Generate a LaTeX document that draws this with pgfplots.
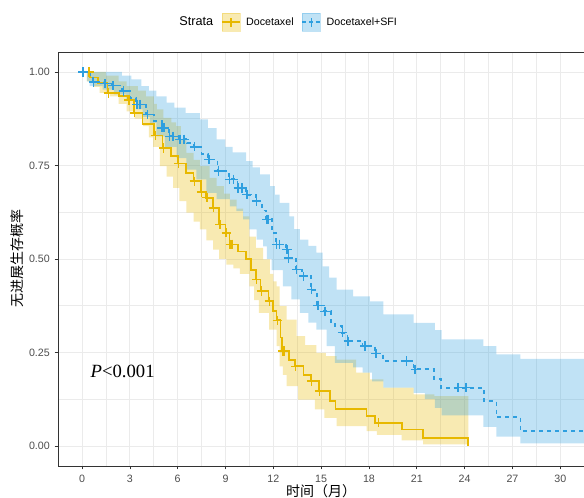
\documentclass[border=0pt]{standalone}
\usepackage{fontspec}
\setmainfont{Liberation Sans}
\newfontfamily\cjk{Noto Sans CJK SC}
\newfontfamily\tms{Liberation Serif}
\usepackage{pgfplots}
\pgfplotsset{compat=1.18}
\usepackage{pgfplotstable}
\usepgfplotslibrary{fillbetween}
\definecolor{docgold}{HTML}{E7B800}
\definecolor{sfiblue}{HTML}{2E9FDF}
\definecolor{gridgray}{HTML}{EBEBEB}
\definecolor{ticktext}{HTML}{4D4D4D}
\definecolor{framegray}{HTML}{333333}

% KM step curves: x = time (months), y = survival from x onward
\pgfplotstableread{
x y
0 1.000
0.5 0.985
1.0 0.970
1.6 0.944
2.3 0.935
2.9 0.925
3.25 0.891
3.8 0.860
4.5 0.830
5.05 0.797
5.6 0.775
6.0 0.755
6.5 0.730
7.0 0.708
7.45 0.679
7.8 0.664
8.2 0.637
8.6 0.592
9.0 0.570
9.25 0.539
9.8 0.520
10.3 0.499
10.6 0.470
10.9 0.445
11.2 0.414
11.7 0.387
12.0 0.360
12.2 0.336
12.45 0.290
12.55 0.254
13.0 0.230
13.35 0.213
13.9 0.190
14.35 0.173
14.85 0.147
15.55 0.120
15.9 0.099
17.85 0.080
18.4 0.062
20.05 0.044
21.4 0.022
24.23 0.000
}\docline

\pgfplotstableread{
x y
0.45 1.000
1.65 0.944
2.95 0.925
3.3 0.891
4.6 0.830
5.1 0.797
6.05 0.755
7.05 0.708
7.5 0.679
7.85 0.664
8.25 0.637
8.65 0.592
9.05 0.570
9.3 0.539
9.4 0.539
10.95 0.445
11.25 0.414
11.75 0.387
12.25 0.336
12.6 0.254
12.7 0.254
13.4 0.213
14.4 0.173
14.9 0.147
18.6 0.062
}\doccens

\pgfplotstableread{
x y
0 1.000
1.5 0.990
2.3 0.975
2.8 0.962
3.5 0.950
4.0 0.935
4.5 0.915
4.7 0.900
5.1 0.877
5.6 0.865
5.9 0.855
6.2 0.820
6.55 0.784
7.0 0.765
7.4 0.748
8.0 0.717
8.44 0.695
8.9 0.675
9.27 0.659
9.7 0.635
10.1 0.614
10.5 0.560
10.9 0.530
11.36 0.499
11.78 0.460
12.0 0.440
12.2 0.427
12.4 0.374
12.83 0.338
13.46 0.294
14.0 0.270
14.7 0.249
15.3 0.240
15.97 0.231
17.2 0.196
18.05 0.178
18.9 0.156
20.8 0.138
22.1 0.133
24.23 0.133
}\docupper

\pgfplotstableread{
x y
0 1.000
0.3 0.975
0.7 0.960
1.1 0.944
1.74 0.935
2.3 0.915
2.8 0.895
3.3 0.875
3.83 0.855
4.2 0.825
4.46 0.800
4.88 0.748
5.3 0.720
5.71 0.690
6.1 0.655
6.55 0.624
7.0 0.600
7.4 0.579
7.8 0.550
8.22 0.525
8.6 0.500
9.06 0.485
9.5 0.475
9.9 0.460
10.5 0.427
10.8 0.390
11.1 0.356
11.74 0.311
12.2 0.267
12.4 0.213
12.6 0.190
12.83 0.160
13.56 0.124
14.6 0.098
15.2 0.075
15.97 0.053
17.85 0.040
18.5 0.030
20.05 0.015
21.4 0.004
24.23 0.004
}\doclower

\pgfplotstableread{
x y
0 1.000
0.5 0.985
0.7 0.973
1.4 0.969
1.9 0.964
2.5 0.949
3.0 0.930
3.4 0.913
4.0 0.886
4.5 0.868
5.0 0.851
5.45 0.828
6.1 0.820
6.6 0.810
7.0 0.800
7.5 0.780
7.9 0.766
8.5 0.735
9.2 0.713
9.75 0.690
10.3 0.672
10.9 0.655
11.3 0.630
11.55 0.606
11.9 0.570
12.15 0.539
12.8 0.525
12.9 0.503
13.4 0.472
13.8 0.454
14.35 0.418
14.75 0.376
15.2 0.360
15.6 0.330
15.85 0.320
16.3 0.303
16.65 0.280
17.6 0.267
18.4 0.247
18.9 0.227
20.8 0.205
22.1 0.180
22.5 0.156
25.2 0.120
26.0 0.078
27.5 0.040
31.5 0.040
}\sfiline

\pgfplotstableread{
x y
0.06 1.000
0.72 0.973
1.45 0.969
1.95 0.964
2.6 0.949
3.45 0.913
3.65 0.913
4.1 0.886
5.0 0.851
5.15 0.851
5.5 0.828
5.7 0.828
6.15 0.820
6.4 0.820
7.05 0.800
7.95 0.766
8.55 0.735
9.25 0.713
9.5 0.713
9.8 0.690
10.05 0.690
10.35 0.672
10.95 0.655
11.6 0.606
11.7 0.606
12.2 0.539
12.4 0.539
12.85 0.525
12.95 0.503
13.45 0.472
13.9 0.454
14.4 0.418
14.8 0.376
15.25 0.360
16.35 0.303
16.7 0.280
17.75 0.267
18.45 0.247
20.35 0.227
20.9 0.205
23.6 0.156
24.1 0.156
}\sficens

\pgfplotstableread{
x y
0 1.000
2.5 0.990
3.1 0.980
3.73 0.962
4.2 0.950
4.67 0.935
5.3 0.918
5.8 0.905
6.5 0.890
7.4 0.873
7.9 0.850
8.44 0.820
9.0 0.800
9.45 0.785
10.3 0.762
10.7 0.745
11.16 0.726
11.78 0.695
12.1 0.672
12.4 0.650
13.0 0.614
13.3 0.580
13.67 0.552
14.2 0.535
14.7 0.517
15.1 0.480
15.5 0.450
15.97 0.418
17.0 0.400
18.05 0.387
18.9 0.352
20.8 0.329
22.14 0.310
22.56 0.285
25.17 0.267
26.0 0.245
27.5 0.233
31.5 0.233
}\sfiupper

\pgfplotstableread{
x y
0 1.000
0.3 0.975
0.48 0.962
1.3 0.953
2.0 0.940
2.79 0.927
3.41 0.900
3.8 0.880
4.25 0.864
4.67 0.828
5.2 0.800
5.93 0.770
6.55 0.739
7.18 0.713
7.8 0.677
8.44 0.660
9.27 0.641
9.69 0.628
10.1 0.606
10.5 0.579
10.95 0.552
11.36 0.534
11.6 0.500
11.9 0.470
12.6 0.427
13.14 0.392
13.67 0.356
14.2 0.330
14.7 0.311
15.34 0.267
15.86 0.222
17.0 0.210
17.6 0.196
18.2 0.173
18.9 0.156
20.8 0.142
21.5 0.125
22.14 0.102
22.56 0.082
25.17 0.051
26.0 0.025
27.5 0.007
31.5 0.007
}\sfilower

\begin{document}
\begin{tikzpicture}
\begin{axis}[
  at={(0,0)}, anchor=south west,
  scale only axis, width=394.5pt, height=310.5pt,
  xmin=-1.507, xmax=31.49, ymin=-0.0535, ymax=1.0535,
  xtick={0,3,...,30}, ytick={0,0.25,0.5,0.75,1},
  minor xtick={1.5,4.5,...,31.5}, minor ytick={0.125,0.375,0.625,0.875},
  grid=both,
  major grid style={gridgray, line width=0.7pt},
  minor grid style={gridgray, line width=0.4pt},
  axis line style={framegray, line width=0.6pt},
  tick align=outside, major tick length=2.6pt, minor tick length=0pt,
  tick style={framegray, line width=0.5pt},
  xtick pos=bottom, ytick pos=left,
  tick label style={font=\fontsize{8}{8}\selectfont, text=ticktext},
  /pgf/number format/assume math mode=true,
  yticklabel style={/pgf/number format/fixed, /pgf/number format/zerofill, /pgf/number format/precision=2},
  xticklabel style={yshift=-0.5pt},
  xlabel={\cjk 时间（月）},
  ylabel={\cjk 无进展生存概率},
  xlabel style={at={(axis description cs:0.5,-0.061)}, anchor=center, font=\fontsize{10.5}{10.5}\selectfont},
  ylabel style={at={(axis description cs:-0.078,0.5)}, anchor=center, font=\fontsize{10.5}{10.5}\selectfont},
  legend columns=-1,
  legend style={at={(axis description cs:0.435,1.072)}, anchor=center, draw=none, fill=none,
    font=\fontsize{8}{8}\selectfont, column sep=2pt,
    /tikz/every even column/.append style={column sep=4pt}},
]
\addplot[const plot, draw=none, name path=gu, forget plot] table {\docupper};
\addplot[const plot, draw=none, name path=gl, forget plot] table {\doclower};
\addplot[fill=docgold, fill opacity=0.3, draw=none, forget plot] fill between[of=gu and gl];
\addplot[const plot, draw=none, name path=bu, forget plot] table {\sfiupper};
\addplot[const plot, draw=none, name path=bl, forget plot] table {\sfilower};
\addplot[fill=sfiblue, fill opacity=0.3, draw=none, forget plot] fill between[of=bu and bl];

\addplot[const plot, docgold, line width=1.3pt, forget plot] table {\docline};
\addplot[const plot, sfiblue, line width=1.3pt, dash pattern=on 3pt off 3pt, forget plot] table {\sfiline};
\addplot[only marks, mark=+, mark size=3.5pt, mark options={draw=docgold, line width=1.2pt, solid, opacity=1}, forget plot] table {\doccens};
\addplot[only marks, mark=+, mark size=3.5pt, mark options={draw=sfiblue, line width=1.2pt, solid, opacity=1}, forget plot] table {\sficens};

\addlegendimage{empty legend}
\addlegendentry{\fontsize{9.5}{9.5}\selectfont Strata}
\addlegendimage{legend image code/.code={
  \fill[docgold, opacity=0.3] (0pt,-6.75pt) rectangle (13.5pt,6.75pt);
  \draw[docgold, line width=1.3pt] (0pt,0pt) -- (13.5pt,0pt);
  \draw[docgold, line width=1.2pt] (6.75pt,-3.5pt) -- (6.75pt,3.5pt);}}
\addlegendentry{Docetaxel}
\addlegendimage{legend image code/.code={
  \fill[sfiblue, opacity=0.3] (0pt,-6.75pt) rectangle (13.5pt,6.75pt);
  \draw[sfiblue, line width=1.3pt, dash pattern=on 3pt off 2pt] (0pt,0pt) -- (13.5pt,0pt);
  \draw[sfiblue, line width=1.2pt] (6.75pt,-3.5pt) -- (6.75pt,3.5pt);}}
\addlegendentry{Docetaxel+SFI}

\node[anchor=west, font=\tms\fontsize{14}{14}\selectfont] at (axis cs:0.25,0.2) {\textit{P}<0.001};
\end{axis}
\pgfresetboundingbox
\useasboundingbox (-43.5pt,-24pt) rectangle (394.5pt,349.5pt);
\end{tikzpicture}
\end{document}
